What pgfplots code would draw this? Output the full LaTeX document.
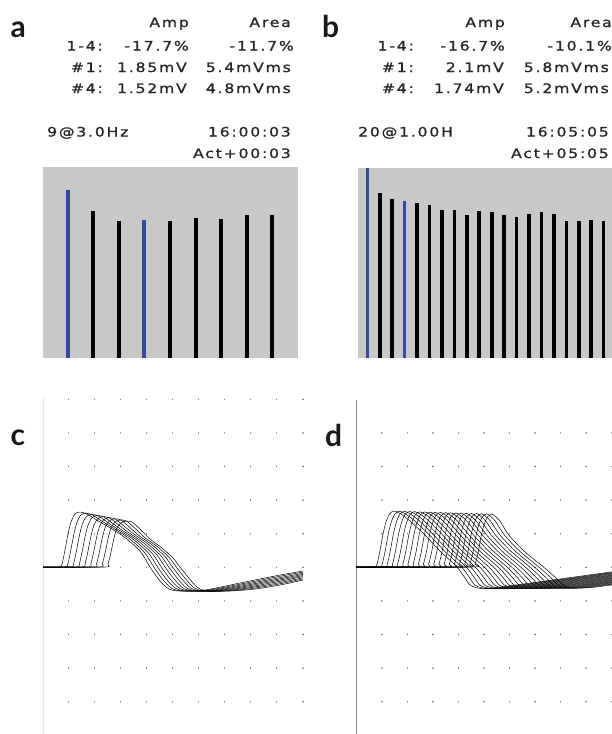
\documentclass[border=0pt]{standalone}
\usepackage{pgfplots}
\pgfplotsset{compat=1.18}
\usepackage{fontspec}
\setmainfont{DejaVu Sans}
\newfontfamily\scr[FakeStretch=1.2, FakeBold=1.2, LetterSpace=14]{DejaVu Sans}
\newfontfamily\lab{Lato}
\definecolor{barblue}{RGB}{55,72,160}
\definecolor{boxgray}{RGB}{200,200,200}

\pgfplotsset{
  barpanel/.style={anchor=south west, axis line style={draw=none}, xtick=\empty, ytick=\empty,
    axis background/.style={fill=boxgray}, ymin=0},
  wavepanel/.style={anchor=south west, x=1bp, y=1bp, y dir=reverse, ymin=432.9, ymax=735.3,
    axis line style={draw=none}, ytick=\empty, xticklabels={}, major tick length=0pt,
    xmajorgrids, major grid style={black!60, line width=1.6bp, line cap=round, dash pattern=on 0.01bp off 33.59bp}},
  trace/.style={black, line width=0.5bp, smooth, tension=0.45}
}
\tikzset{scrtxt/.style={font=\scr\fontsize{13bp}{13bp}\selectfont, text=black!85, inner sep=0pt},
  panlab/.style={font=\lab\bfseries\fontsize{30bp}{30bp}\selectfont, text=black!90, inner sep=0pt, anchor=base west}}

\begin{document}
\begin{tikzpicture}
\path[use as bounding box] (0,0) rectangle (612bp,-734bp);

% panel labels
\node[panlab] at (10.5bp,-37bp) {a};
\node[panlab] at (322bp,-37bp) {b};
\node[panlab] at (10.5bp,-445bp) {c};
\node[panlab] at (325bp,-446bp) {d};

% read-out text, panel a
\node[scrtxt, anchor=base east] at (189bp,-27bp) {Amp};
\node[scrtxt, anchor=base east] at (291bp,-27bp) {Area};
\node[scrtxt, anchor=base east] at (103bp,-50.5bp) {1-4:};
\node[scrtxt, anchor=base east] at (189bp,-50.5bp) {-17.7\%};
\node[scrtxt, anchor=base east] at (294bp,-50.5bp) {-11.7\%};
\node[scrtxt, anchor=base east] at (103bp,-72bp) {\#1:};
\node[scrtxt, anchor=base east] at (187bp,-72bp) {1.85mV};
\node[scrtxt, anchor=base east] at (291bp,-72bp) {5.4mVms};
\node[scrtxt, anchor=base east] at (103bp,-93bp) {\#4:};
\node[scrtxt, anchor=base east] at (187bp,-93bp) {1.52mV};
\node[scrtxt, anchor=base east] at (291bp,-93bp) {4.8mVms};
\node[scrtxt, anchor=base west] at (47bp,-136.5bp) {9@3.0Hz};
\node[scrtxt, anchor=base east] at (291bp,-136.5bp) {16:00:03};
\node[scrtxt, anchor=base east] at (291bp,-158bp) {Act+00:03};

% read-out text, panel b
\node[scrtxt, anchor=base east] at (505bp,-27bp) {Amp};
\node[scrtxt, anchor=base east] at (612bp,-27bp) {Area};
\node[scrtxt, anchor=base east] at (414bp,-50.5bp) {1-4:};
\node[scrtxt, anchor=base east] at (505bp,-50.5bp) {-16.7\%};
\node[scrtxt, anchor=base east] at (612bp,-50.5bp) {-10.1\%};
\node[scrtxt, anchor=base east] at (414bp,-72bp) {\#1:};
\node[scrtxt, anchor=base east] at (504bp,-72bp) {2.1mV};
\node[scrtxt, anchor=base east] at (609bp,-72bp) {5.8mVms};
\node[scrtxt, anchor=base east] at (414bp,-93bp) {\#4:};
\node[scrtxt, anchor=base east] at (504bp,-93bp) {1.74mV};
\node[scrtxt, anchor=base east] at (609bp,-93bp) {5.2mVms};
\node[scrtxt, anchor=base west] at (358bp,-136.5bp) {20@1.00H};
\node[scrtxt, anchor=base east] at (609bp,-136.5bp) {16:05:05};
\node[scrtxt, anchor=base east] at (609bp,-158bp) {Act+05:05};

% a: train of 9 responses
\begin{axis}[barpanel, at={(43bp,-358bp)}, x=25.6bp, y=90.8bp, xmin=0.04, xmax=10.0, ymax=2.1]
\addplot[ycomb, draw=barblue, line width=4bp] coordinates {(1,1.85) (4,1.52)};
\addplot[ycomb, draw=black, line width=4bp] coordinates {(2,1.62) (3,1.51) (5,1.51) (6,1.54) (7,1.53) (8,1.57) (9,1.57)};
\end{axis}

% b: train of 20 responses
\begin{axis}[barpanel, at={(357.5bp,-358bp)}, x=12.44bp, y=90.5bp, xmin=0.21, xmax=20.67, ymax=2.105]
\addplot[ycomb, draw=barblue, line width=3.6bp] coordinates {(1,2.10) (4,1.74)};
\addplot[ycomb, draw=black, line width=3.6bp] coordinates {(2,1.82) (3,1.76) (5,1.71) (6,1.69) (7,1.64) (8,1.64) (9,1.58) (10,1.62) (11,1.61) (12,1.58) (13,1.56) (14,1.59) (15,1.61) (16,1.59) (17,1.51) (18,1.51) (19,1.52) (20,1.51)};
\end{axis}

% c: 9 superimposed CMAPs
\draw[black!10, line width=0.6bp] (43bp,-398bp) -- (43bp,-734bp);
\begin{axis}[wavepanel, at={(43bp,-735.3bp)}, xmin=43, xmax=303, ymin=399.3,
  xtick={68.3,94.3,120.4,146.4,172.5,198.5,224.5,250.6,276.6,302.7}]
\addplot[trace] coordinates {(43,567) (59,567) (62,564) (65,550) (68,534) (71,522) (75,514) (80,512) (87,514) (95,519) (107,526) (123,536) (140,551) (150,567) (160,581) (169,589) (180,591) (205,590) (240,583) (275,576) (303,571)};
\addplot[trace] coordinates {(43,567) (64.8,567) (67.8,564) (70.8,550.3) (73.8,534.5) (76.8,522.8) (80.8,515.1) (85.8,513.1) (92.6,515) (100.6,520.3) (112.4,527.6) (127.9,537.5) (144.1,551.9) (153.8,567) (163.5,580.5) (172.5,588.8) (183.4,591) (208.1,590.1) (241.9,583.8) (275.6,577.1) (303,572.1)};
\addplot[trace] coordinates {(43,567) (70.5,567) (73.5,564) (76.5,550.5) (79.5,535) (82.5,523.5) (86.5,516.3) (91.5,514.3) (98.3,516) (106.3,521.5) (117.8,529.3) (132.8,539) (148.3,552.8) (157.5,567) (167,580) (176,588.5) (186.8,591) (211.3,590.3) (243.8,584.5) (276.3,578.3) (303,573.3)};
\addplot[trace] coordinates {(43,567) (76.3,567) (79.3,564) (82.3,550.8) (85.3,535.5) (88.3,524.3) (92.3,517.4) (97.3,515.4) (103.9,517) (111.9,522.8) (123.1,530.9) (137.6,540.5) (152.4,553.6) (161.3,567) (170.5,579.5) (179.5,588.3) (190.1,591) (214.4,590.4) (245.6,585.3) (276.9,579.4) (303,574.4)};
\addplot[trace] coordinates {(43,567) (82,567) (85,564) (88,551) (91,536) (94,525) (98,518.5) (103,516.5) (109.5,518) (117.5,524) (128.5,532.5) (142.5,542) (156.5,554.5) (165,567) (174,579) (183,588) (193.5,591) (217.5,590.5) (247.5,586) (277.5,580.5) (303,575.5)};
\addplot[trace] coordinates {(43,567) (87.8,567) (90.8,564) (93.8,551.3) (96.8,536.5) (99.8,525.8) (103.8,519.6) (108.8,517.6) (115.1,519) (123.1,525.3) (133.9,534.1) (147.4,543.5) (160.6,555.4) (168.8,567) (177.5,578.5) (186.5,587.8) (196.9,591) (220.6,590.6) (249.4,586.8) (278.1,581.6) (303,576.6)};
\addplot[trace] coordinates {(43,567) (93.5,567) (96.5,564) (99.5,551.5) (102.5,537) (105.5,526.5) (109.5,520.8) (114.5,518.8) (120.8,520) (128.8,526.5) (139.3,535.8) (152.3,545) (164.8,556.3) (172.5,567) (181,578) (190,587.5) (200.3,591) (223.8,590.8) (251.3,587.5) (278.8,582.8) (303,577.8)};
\addplot[trace] coordinates {(43,567) (99.3,567) (102.3,564) (105.3,551.8) (108.3,537.5) (111.3,527.3) (115.3,521.9) (120.3,519.9) (126.4,521) (134.4,527.8) (144.6,537.4) (157.1,546.5) (168.9,557.1) (176.3,567) (184.5,577.5) (193.5,587.3) (203.6,591) (226.9,590.9) (253.1,588.3) (279.4,583.9) (303,578.9)};
\addplot[trace] coordinates {(43,567) (105,567) (108,564) (111,552) (114,538) (117,528) (121,523) (126,521) (132,522) (140,529) (150,539) (162,548) (173,558) (180,567) (188,577) (197,587) (207,591) (230,591) (255,589) (280,585) (303,580)};
\end{axis}

% d: 20 superimposed CMAPs
\draw[black!45, line width=0.8bp] (356bp,-400bp) -- (356bp,-734bp);
\begin{axis}[wavepanel, at={(356bp,-735.3bp)}, xmin=356, xmax=612,
  xtick={381.7,407.3,432.8,458.4,484,509.5,535.1,560.6,586.2,611.7}]
\addplot[trace] coordinates {(356,567) (374,567) (377,564) (380,550.5) (383,534) (386,522) (389.5,514) (394,511) (401,514) (410,521) (425,535) (440,551) (457,567) (465,578) (470,585) (478,588) (496,587.6) (612,571.8)};
\addplot[trace] coordinates {(356,567) (379.2,567) (382.2,564) (385.2,550.7) (388.2,534.2) (391.2,522.2) (394.7,514.2) (399.2,511.2) (406,514.2) (414.8,521) (429.5,535) (444.5,551) (461.6,567) (469.8,578) (474.9,585) (483,588) (501,587.6) (612,572.5)};
\addplot[trace] coordinates {(356,567) (384.3,567) (387.3,564) (390.3,550.8) (393.3,534.3) (396.3,522.3) (399.8,514.3) (404.3,511.3) (411,514.3) (419.5,521) (433.8,535) (448.8,551) (466.1,567) (474.6,578) (479.8,585) (487.9,588) (505.9,587.6) (612,573.1)};
\addplot[trace] coordinates {(356,567) (389.5,567) (392.5,564) (395.5,551) (398.5,534.5) (401.5,522.5) (405,514.5) (409.5,511.5) (416,514.5) (424.2,521) (438.3,535) (453.3,551) (470.7,567) (479.4,578) (484.7,585) (492.9,588) (510.9,587.6) (612,573.8)};
\addplot[trace] coordinates {(356,567) (394.6,567) (397.6,564) (400.6,551.1) (403.6,534.6) (406.6,522.6) (410.1,514.6) (414.6,511.6) (421,514.6) (428.9,521) (442.6,535) (457.7,551) (475.2,567) (484.1,578) (489.6,585) (497.8,588) (515.8,587.6) (612,574.5)};
\addplot[trace] coordinates {(356,567) (399.8,567) (402.8,564) (405.8,551.3) (408.8,534.8) (411.8,522.8) (415.3,514.8) (419.8,511.8) (426,514.8) (433.7,521) (447.1,535) (462.1,551) (479.8,567) (489,578) (494.5,585) (502.8,588) (520.8,587.6) (612,575.2)};
\addplot[trace] coordinates {(356,567) (404.9,567) (407.9,564) (410.9,551.4) (413.9,534.9) (416.9,522.9) (420.4,514.9) (424.9,511.9) (431,514.9) (438.4,521) (451.4,535) (466.5,551) (484.3,567) (493.7,578) (499.3,585) (507.6,588) (525.6,587.6) (612,575.9)};
\addplot[trace] coordinates {(356,567) (410.1,567) (413.1,564) (416.1,551.6) (419.1,535.1) (422.1,523.1) (425.6,515.1) (430.1,512.1) (436,515.1) (443.2,521) (455.9,535) (470.9,551) (488.9,567) (498.5,578) (504.3,585) (512.6,588) (530.6,587.6) (612,576.6)};
\addplot[trace] coordinates {(356,567) (415.3,567) (418.3,564) (421.3,551.8) (424.3,535.3) (427.3,523.3) (430.8,515.3) (435.3,512.3) (441,515.3) (447.9,521) (460.3,535) (475.4,551) (493.5,567) (503.4,578) (509.2,585) (517.6,588) (535.6,587.6) (612,577.3)};
\addplot[trace] coordinates {(356,567) (420.4,567) (423.4,564) (426.4,551.9) (429.4,535.4) (432.4,523.4) (435.9,515.4) (440.4,512.4) (446,515.4) (452.6,521) (464.7,535) (479.8,551) (498,567) (508.1,578) (514,585) (522.5,588) (540.5,587.6) (612,578)};
\addplot[trace] coordinates {(356,567) (425.6,567) (428.6,564) (431.6,552.1) (434.6,535.6) (437.6,523.6) (441.1,515.6) (445.6,512.6) (451,515.6) (457.4,521) (469.1,535) (484.2,551) (502.6,567) (512.9,578) (519,585) (527.5,588) (545.5,587.6) (612,578.7)};
\addplot[trace] coordinates {(356,567) (430.7,567) (433.7,564) (436.7,552.2) (439.7,535.7) (442.7,523.7) (446.2,515.7) (450.7,512.7) (456,515.7) (462.1,521) (473.5,535) (488.6,551) (507,567) (517.7,578) (523.8,585) (532.4,588) (550.4,587.6) (612,579.4)};
\addplot[trace] coordinates {(356,567) (435.9,567) (438.9,564) (441.9,552.4) (444.9,535.9) (447.9,523.9) (451.4,515.9) (455.9,512.9) (461,515.9) (466.9,521) (477.9,535) (493.1,551) (511.6,567) (522.5,578) (528.7,585) (537.4,588) (555.4,587.6) (612,580.1)};
\addplot[trace] coordinates {(356,567) (441.1,567) (444.1,564) (447.1,552.6) (450.1,536.1) (453.1,524.1) (456.6,516.1) (461.1,513.1) (466.1,516.1) (471.6,521) (482.4,535) (497.5,551) (516.2,567) (527.3,578) (533.7,585) (542.4,588) (560.4,587.6) (612,580.8)};
\addplot[trace] coordinates {(356,567) (446.2,567) (449.2,564) (452.2,552.7) (455.2,536.2) (458.2,524.2) (461.7,516.2) (466.2,513.2) (471,516.2) (476.3,521) (486.7,535) (501.9,551) (520.7,567) (532,578) (538.5,585) (547.3,588) (565.3,587.6) (612,581.5)};
\addplot[trace] coordinates {(356,567) (451.4,567) (454.4,564) (457.4,552.9) (460.4,536.4) (463.4,524.4) (466.9,516.4) (471.4,513.4) (476,516.4) (481.1,521) (491.2,535) (506.4,551) (525.3,567) (536.9,578) (543.5,585) (552.2,588) (570.2,587.6) (612,582.1)};
\addplot[trace] coordinates {(356,567) (456.5,567) (459.5,564) (462.5,553) (465.5,536.5) (468.5,524.5) (472,516.5) (476.5,513.5) (481,516.5) (485.8,521) (495.5,535) (510.7,551) (529.8,567) (541.6,578) (548.3,585) (557.1,588) (575.1,587.6) (612,582.8)};
\addplot[trace] coordinates {(356,567) (461.7,567) (464.7,564) (467.7,553.2) (470.7,536.7) (473.7,524.7) (477.2,516.7) (481.7,513.7) (486,516.7) (490.5,521) (500,535) (515.2,551) (534.4,567) (546.4,578) (553.2,585) (562.1,588) (580.1,587.6) (612,583.5)};
\addplot[trace] coordinates {(356,567) (466.8,567) (469.8,564) (472.8,553.3) (475.8,536.8) (478.8,524.8) (482.3,516.8) (486.8,513.8) (491,516.8) (495.2,521) (504.4,535) (519.5,551) (538.9,567) (551.2,578) (558.1,585) (567,588) (585,587.6) (612,584.2)};
\addplot[trace] coordinates {(356,567) (472,567) (475,564) (478,553.5) (481,537) (484,525) (487.5,517) (492,514) (496,517) (500,521) (508.8,535) (524,551) (543.5,567) (556,578) (563,585) (572,588) (590,587.6) (612,584.9)};
\end{axis}
\end{tikzpicture}
\end{document}
